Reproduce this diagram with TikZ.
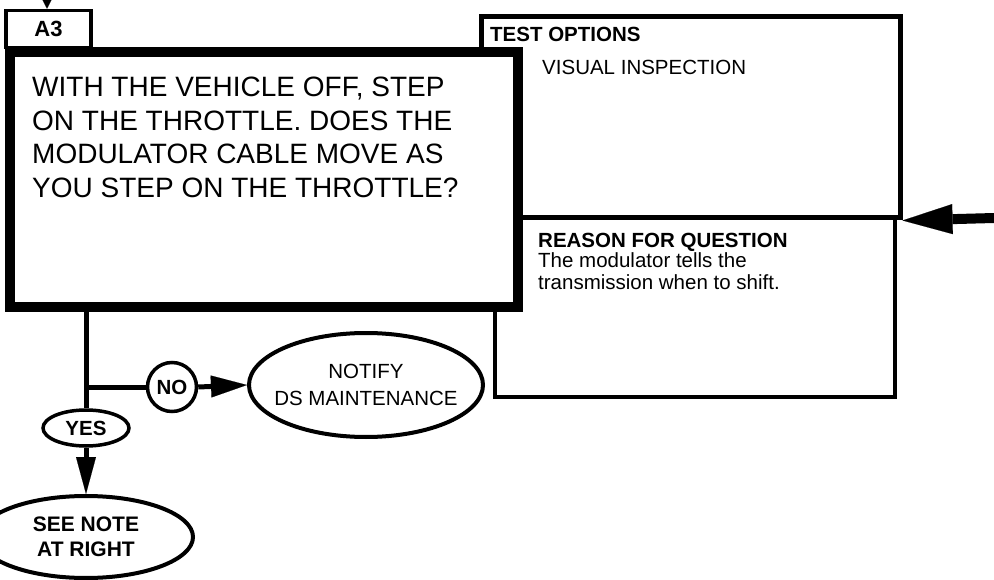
\documentclass[tikz,border=0pt]{standalone}
\usepackage{fontspec}
\setmainfont{Liberation Sans}
\usetikzlibrary{arrows.meta,shapes.geometric}
\begin{document}
\begin{tikzpicture}[x=1pt,y=-1pt,
  thinbox/.style={draw,fill=white,rectangle,inner sep=0pt,line width=#1},
  oval/.style={draw,fill=white,ellipse,inner sep=0pt,line width=4pt,align=center},
  flow/.style={line width=#1},
  lbl/.style={inner sep=0pt,anchor=base west,align=left}
]
\useasboundingbox (0,0) rectangle (994,580);
% test options boxes
\node[thinbox=5pt,minimum width=419pt,minimum height=201pt] (upper) at (690.5,117.5) {};
\node[thinbox=3.5pt,minimum width=400pt,minimum height=179pt] (lower) at (695,307.5) {};
% A3 tag
\node[thinbox=3.5pt,minimum width=85pt,minimum height=37pt,font=\fontsize{22}{22}\selectfont\bfseries] (a3) at (48.5,29) {A3};
% main question box
\node[thinbox=10pt,minimum width=508pt,minimum height=255pt] (main) at (264,179.5) {};
\node[inner sep=0pt,anchor=north west,align=left,font=\fontsize{28}{33.5}\selectfont] (q) at (32,77)
  {WITH THE VEHICLE OFF, STEP\\ON THE THROTTLE. DOES THE\\MODULATOR CABLE MOVE AS\\YOU STEP ON THE THROTTLE?};
% texts in side boxes
\node[lbl,font=\fontsize{20.5}{20.5}\selectfont\bfseries] (to) at (490,42) {TEST OPTIONS};
\node[lbl,font=\fontsize{20.5}{20.5}\selectfont] (vi) at (542,75) {VISUAL INSPECTION};
\node[lbl,font=\fontsize{20.5}{20.5}\selectfont\bfseries] (rq) at (538,248) {REASON FOR QUESTION};
\node[lbl,font=\fontsize{20.5}{22}\selectfont] (rt) at (538,290) {The modulator tells the\\transmission when to shift.};
% outcome nodes
\node[draw,fill=white,circle,inner sep=0pt,minimum size=49pt,line width=3.5pt,font=\fontsize{20.5}{20.5}\selectfont\bfseries] (no) at (172,387) {NO};
\node[oval,minimum width=234pt,minimum height=104pt] (notify) at (366,385) {};
\node[inner sep=0pt,align=center,font=\fontsize{20.5}{27}\selectfont] (notifytext) at (notify.center) {NOTIFY\\DS MAINTENANCE};
\node[oval,line width=3.5pt,minimum width=86pt,minimum height=36pt,font=\fontsize{20.5}{20.5}\selectfont\bfseries] (yes) at (86,428) {YES};
\node[oval,minimum width=214pt,minimum height=82pt,font=\fontsize{21}{25}\selectfont\bfseries] (see) at (86,537) {SEE NOTE\\AT RIGHT};
% connectors
\coordinate (topin) at (47,0);
\coordinate (rin) at (994,218);
\draw[flow=3pt,-{Triangle[length=10pt,width=10pt,line width=0.1pt]}] (topin) -- (a3.north -| topin);
\draw[flow=10pt,-{Triangle[length=50pt,width=30pt,line width=0.1pt]}] (rin) -- (upper.south east);
\draw[flow=5pt] (yes.north |- main.south) -- (yes.north);
\draw[flow=5pt] (yes.north |- no.west) -- (no.west);
\draw[flow=5pt,-{Triangle[length=36pt,width=22pt,line width=0.1pt]}] (no.east) -- (notify.west);
\draw[flow=5pt,-{Triangle[length=37pt,width=20pt,line width=0.1pt]}] (yes.south) -- (see.north);
\end{tikzpicture}
\end{document}
